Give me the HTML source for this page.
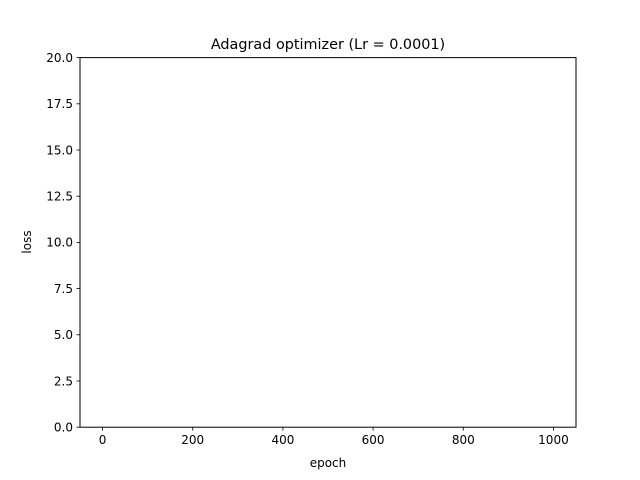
<!DOCTYPE html>
<html><head><meta charset="utf-8"><style>
html,body{margin:0;padding:0;background:#fff;}
svg{display:block;font-family:"DejaVu Sans","Liberation Sans",sans-serif;}
</style></head><body>
<svg id="chart" width="640" height="480" viewBox="0 0 640 480">
<rect x="0" y="0" width="640" height="480" fill="#fff"/>
<text x="328" y="49" font-size="14.4" text-anchor="middle" fill="#000">Adagrad optimizer (Lr = 0.0001)</text>
<g id="xt"></g>
<g id="yt"></g>
<g id="series"></g>
<rect x="80" y="57.6" width="496" height="369.6" fill="none" stroke="#000" stroke-width="1"/>
<text x="328" y="467" font-size="12" text-anchor="middle">epoch</text>
<text transform="translate(31,242) rotate(-90)" font-size="12" text-anchor="middle">loss</text>
</svg>
<script>
const xTicks = [0, 200, 400, 600, 800, 1000];
const yTicks = [0, 2.5, 5, 7.5, 10, 12.5, 15, 17.5, 20];
const yTickLabels = ["0.0","2.5","5.0","7.5","10.0","12.5","15.0","17.5","20.0"];
const epochs = [];
const lossValues = [];
const NS = "http://www.w3.org/2000/svg";
const L=80,R=576,T=57.6,B=427.2, xmin=-50, xmax=1050, ymin=0, ymax=20;
function sx(v){return L+(v-xmin)/(xmax-xmin)*(R-L);}
function sy(v){return B-(v-ymin)/(ymax-ymin)*(B-T);}
function mk(tag,attrs,parent){const e=document.createElementNS(NS,tag);for(const k in attrs)e.setAttribute(k,attrs[k]);parent.appendChild(e);return e;}
const xt=document.getElementById('xt'), yt=document.getElementById('yt');
xTicks.forEach(v=>{
  const x=sx(v);
  const l=mk('line',{x1:x,x2:x,y1:B,y2:B+3.5,stroke:'#000','stroke-width':0.8},xt);
  
  
  const t=mk('text',{x:x,y:B+17,'font-size':12,'text-anchor':'middle'},xt);
  t.textContent=String(v);
  
  
});
yTicks.forEach((v,i)=>{
  const y=sy(v);
  const l=mk('line',{x1:L-3.5,x2:L,y1:y,y2:y,stroke:'#000','stroke-width':0.8},yt);
  
  
  const t=mk('text',{x:L-7,y:y+4.3,'font-size':12,'text-anchor':'end'},yt);
  t.textContent=yTickLabels[i];
  
  
});
if(epochs.length){
  const p=mk('polyline',{points:epochs.map((e,i)=>sx(e)+','+sy(lossValues[i])).join(' '),fill:'none',stroke:'#1f77b4','stroke-width':1.5},document.getElementById('series'));
  
  
}
</script>
</body></html>
